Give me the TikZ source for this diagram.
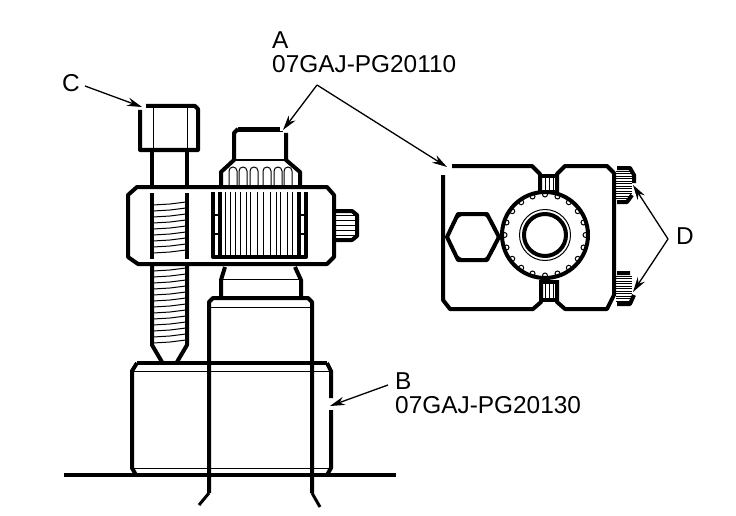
\documentclass[tikz,border=0pt]{standalone}
\usepackage{fontspec}
\setmainfont{Liberation Sans}
\usetikzlibrary{arrows.meta}
\tikzset{
thickline/.style={line width=4pt,line join=round},
midline/.style={line width=2pt},
thinline/.style={line width=1pt},
callout/.style={line width=1.3pt,-{Stealth[length=15pt,width=8.5pt]}},
tag/.style={anchor=west,inner sep=0pt,font=\fontsize{24.4}{24.4}\selectfont}
}
\begin{document}
\begin{tikzpicture}[x=1pt,y=-1pt]
\useasboundingbox (0,0) rectangle (736,516);
\fill[white] (0,0) rectangle (736,516);
\node[tag] (A) at (272,40) {A};
\node[tag] (Apart) at (272,64) {07GAJ-PG20110};
\node[tag] (B) at (395,381) {B};
\node[tag] (Bpart) at (395,405) {07GAJ-PG20130};
\node[tag] (C) at (62,83) {C};
\node[tag] (D) at (676,236) {D};
\coordinate (Afork) at (317,85);
\coordinate (Aknob) at (283,130);
\coordinate (Aplate) at (447,167);
\coordinate (Btip) at (330,406);
\coordinate (Bstart) at (388,385);
\coordinate (Cstart) at (85,86);
\coordinate (Chead) at (142,107);
\coordinate (Dfork) at (668,239);
\coordinate (Dtop) at (633,185);
\coordinate (Dbot) at (633,292);
% bolt
\draw[thickline] (140,110) -- (140,150) -- (198,150) -- (198,109) -- (195,106) -- (146,106);
\draw[thinline] (153,107) -- (153,150) (187,107) -- (187,150);
\draw[thickline] (152,150) -- (152,187) (187,150) -- (187,187);
\draw[thickline] (152,193) -- (152,259) (187,193) -- (187,259);
\draw[thickline] (152,264) -- (152,345) -- (162,362) (187,264) -- (187,345) -- (177,362);
\draw[thinline] (162,362) -- (177,362);
\foreach \y in {205,211,...,257} \draw[thinline] (153,\y) -- (170,\y-1) -- (186,\y-3);
\foreach \y in {271,277,...,343} \draw[thinline] (153,\y) -- (170,\y-1) -- (186,\y-3);
% clamp
\draw[thickline] (137,187) -- (327,187) -- (334,195) -- (334,257) -- (327,264) -- (138,264) -- (128,257) -- (128,195) -- cycle;
\draw[thickline] (213,192) -- (213,257) -- (306,257) -- (306,192);
\draw[thickline] (220,192) -- (220,257) (299,192) -- (299,257);
\draw[midline] (213,215) -- (220,215) (213,234) -- (220,234) (299,215) -- (306,215) (299,234) -- (306,234);
\foreach \x in {225,230,235,240,246,250,257,263,270,276,280,287,292} \draw[thinline] (\x,192) -- (\x,256);
% knob
\draw[thickline] (238,129) -- (280,129);
\draw[thinline] (236,132) -- (283,132);
\draw[thickline] (238,129) -- (234,133) -- (234,160) -- (221,172) -- (221,187);
\draw[thickline] (286,133) -- (286,160) -- (300,172) -- (300,187);
\draw[midline] (234,160) -- (286,160);
\foreach \x in {233,243,254,267,278,288} \draw[thinline] (\x-4,187) -- (\x-4,171) arc (180:360:4) -- (\x+4,187);
% side screw
\draw[thickline] (335,211) -- (352,211) -- (357,215) -- (357,236) -- (352,240) -- (335,240);
\foreach \y in {215,220,...,235} \draw[thinline] (336,\y) -- (355,\y);
% neck
\draw[thickline] (225,267) -- (221,280) -- (221,298) (295,267) -- (301,280) -- (301,298);
\draw[thinline] (221,279) -- (301,279);
% cylinder
\draw[thickline] (209,493) -- (209,302) -- (213,298) -- (308,298) -- (312,302) -- (312,493);
\draw[thinline] (209,307) -- (312,307);
\draw[line width=3pt] (209,493) -- (199,505) (312,493) -- (320,507);
% base
\draw[thickline] (137,363) -- (327,363);
\draw[thinline] (133,371) -- (330,371) (133,468) -- (330,468);
\draw[thickline] (137,363) -- (132,371) -- (132,468) -- (136,475);
\draw[thickline] (327,363) -- (331,371) -- (331,398) (331,410) -- (331,468) -- (327,475);
\draw[thickline] (64,475) -- (396,475);
% plate
\draw[thickline] (452,166) -- (532,166) -- (540,174) -- (540,193) (557,193) -- (557,174) -- (565,166) -- (607,166) -- (614,173) -- (614,295) -- (607,309) -- (565,309) -- (557,302) -- (557,280) (541,280) -- (541,302) -- (533,309) -- (450,309) -- (443,300) -- (443,175);
\draw[thickline] (540,176) -- (557,176) (540,192) -- (557,192) (541,282) -- (557,282) (541,300) -- (557,300);
\foreach \x in {545,549,553} \draw[thinline] (\x,176) -- (\x,192) (\x,282) -- (\x,300);
% nut
\draw[thinline] (473,237) circle (24.5);
\draw[thickline] (447,237) -- (458,214) -- (487,214) -- (499,237) -- (487,260) -- (458,260) -- cycle;
% gear
\foreach \a in {0,18,...,342} \draw[thinline,shift={(545,235)}] (\a:40.5) circle (2.5);
\draw[thickline] (545,235) circle (43);
\draw[thickline] (545,235) circle (21);
\draw[thinline] (545,235) circle (25.5);
% knurled screws
\draw[thickline] (617,168) -- (630,168) -- (634,175) -- (634,183) (632,195) -- (627,202) -- (617,202);
\foreach \y in {171,173.5,...,200} \draw[thinline] (616,\y) -- (632,\y);
\draw[thickline] (617,273) -- (630,273) (634,295) -- (630,304) -- (617,304);
\foreach \y in {276,278.5,...,302} \draw[thinline] (616,\y) -- (632,\y);
% leaders
\draw[callout] (Afork) -- (Aknob);
\draw[callout] (Afork) -- (Aplate);
\draw[callout] (Bstart) -- (Btip);
\draw[callout] (Cstart) -- (Chead);
\draw[callout] (Dfork) -- (Dtop);
\draw[callout] (Dfork) -- (Dbot);
\end{tikzpicture}
\end{document}
